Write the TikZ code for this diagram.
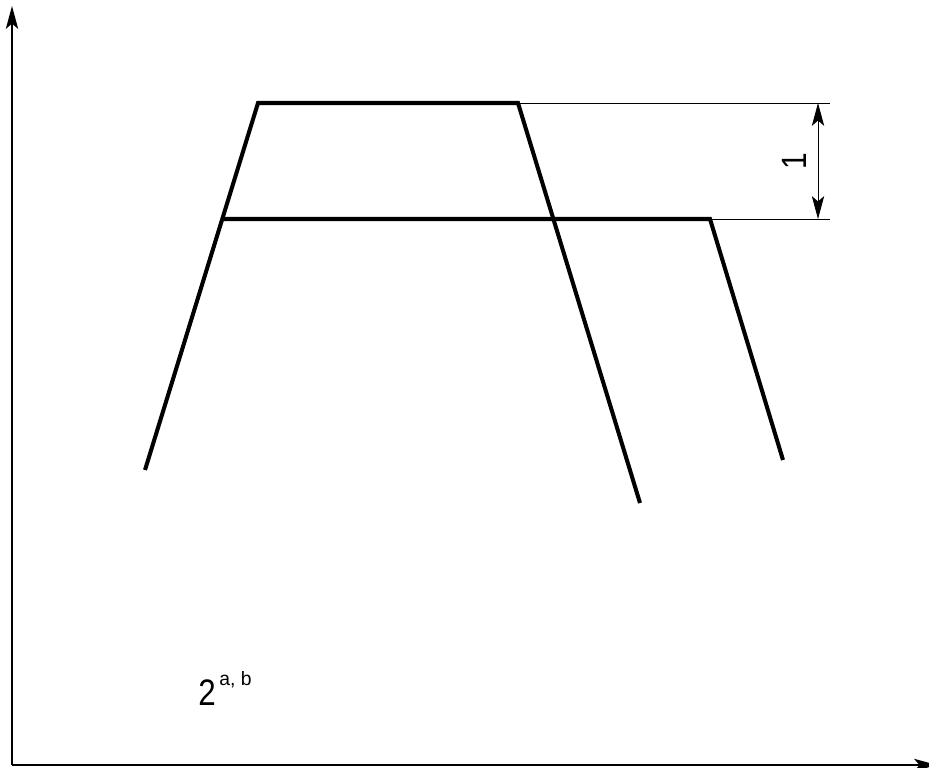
\documentclass[tikz,border=0pt]{standalone}
\usepackage{fontspec}
\setsansfont{Liberation Sans}
\usetikzlibrary{arrows.meta}
\begin{document}
\begin{tikzpicture}[x=0.02cm, y=-0.02cm, font=\sffamily,
    >={Stealth[length=13pt, width=7pt, inset=3pt]}]
	\useasboundingbox (0,0) rectangle (929,767);
	\coordinate (O) at (12,765); \coordinate (Y) at (12,6); \coordinate (X) at (937,765);
	\coordinate (A) at (145,470); \coordinate (B) at (258,103);
	\coordinate (C) at (518,103); \coordinate (D) at (640,503);
	\coordinate (E) at (222,219); \coordinate (F) at (710,219);
	\coordinate (G) at (783,460);
	\coordinate (P) at (830,103); \coordinate (Q) at (830,219);
	\coordinate (U) at (818,103); \coordinate (V) at (818,219);
	\draw[line width=1.1pt, ->] (O) -- (Y);
	\draw[line width=1.1pt, ->] (O) -- (X);
	\draw[line width=0.5pt] (C) -- (P) (F) -- (Q);
	\draw[line width=0.5pt, <->] (U) -- (V);
	\draw[line width=2.3pt] (A) -- (B) -- (C) -- (D);
	\draw[line width=2.3pt] (E) -- (F) -- (G);
	\node[rotate=90, xscale=0.85, font=\sffamily\fontsize{20}{24}\selectfont] (h) at (794,161) {1};
	\node[anchor=base west, inner sep=0pt, font=\sffamily\fontsize{21}{25}\selectfont] (n) at (198,705)
		{\scalebox{0.85}[1]{2}\kern2pt\raisebox{11pt}{\fontsize{11}{13}\selectfont a, b}};
\end{tikzpicture}
\end{document}
